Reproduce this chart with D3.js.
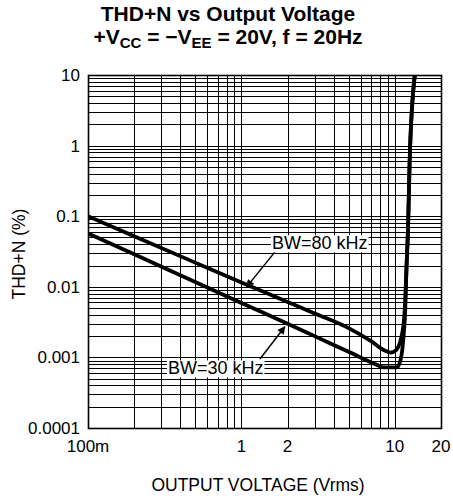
<!DOCTYPE html>
<html>
<head>
<meta charset="utf-8">
<title>THD+N vs Output Voltage</title>
<script src="https://d3js.org/d3.v7.min.js"></script>
<style>
  body { margin: 0; background: #fff; }
  svg text { font-family: "Liberation Sans", Arial, sans-serif; fill: #000; }
  .title { font-size: 21px; font-weight: bold; text-anchor: middle; }
  .tick-label { font-size: 17px; }
  .axis-title { font-size: 17.5px; text-anchor: middle; }
  .grid line { stroke: #000; stroke-width: 1; shape-rendering: crispEdges; }
  .curve { fill: none; stroke: #000; stroke-width: 3.8; stroke-linejoin: round; }
  .note { font-size: 18px; }
</style>
</head>
<body>
<div id="chart"></div>
<script>
// tick labels
const xTickVals = [0.1, 1, 2, 10, 20];
const xTickText = ["100m", "1", "2", "10", "20"];
const yTickVals = [0.0001, 0.001, 0.01, 0.1, 1, 10];
const yTickText = ["0.0001", "0.001", "0.01", "0.1", "1", "10"];

// BW = 80 kHz (upper curve)
const bw80V   = [0.1, 0.2, 0.5, 1, 2, 3, 5, 7, 8.6, 9.4, 10.2, 11.27, 11.69, 11.9, 12.2, 12.5, 13.5];
const bw80Thd = [0.1, 0.052, 0.022, 0.0115, 0.0061, 0.0042, 0.0026, 0.0017, 0.00125, 0.00117, 0.00127, 0.00244, 0.0065, 0.0173, 0.071, 0.625, 10];

// BW = 30 kHz (lower curve)
const bw30V   = [0.1, 0.2, 0.5, 1, 2, 3, 5, 7.6, 8.5, 10.3, 10.9, 11.35, 11.69, 11.9, 12.2, 12.5, 13.5];
const bw30Thd = [0.057, 0.029, 0.0117, 0.0059, 0.003, 0.002, 0.0012, 0.00079, 0.00072, 0.00072, 0.00092, 0.00177, 0.0047, 0.0173, 0.071, 0.625, 10];

// labels with arrows: text centre, arrow tail, arrow tip (data units)
const noteText = ["BW=80 kHz", "BW=30 kHz"];
const noteAt   = [[3.24, 0.042], [0.68, 0.00071]];
const noteTail = [[1.65, 0.031], [1.32, 0.00095]];
const noteTip  = [[1.08, 0.0099], [1.92, 0.00272]];

const W = 453, H = 503;
const margin = { top: 75, right: 12, bottom: 75, left: 88 };
const width = W - margin.left - margin.right;
const height = H - margin.top - margin.bottom;

const svg = d3.select("#chart").append("svg")
  .attr("width", W).attr("height", H);

// title
svg.append("text").attr("class", "title").attr("x", 228).attr("y", 21)
  .text("THD+N vs Output Voltage");
const t2 = svg.append("text").attr("class", "title").attr("x", 228).attr("y", 44);
t2.append("tspan").text("+V");
t2.append("tspan").attr("font-size", "15px").attr("dy", 4).text("CC");
t2.append("tspan").attr("dy", -4).text(" = \u2212V");
t2.append("tspan").attr("font-size", "15px").attr("dy", 4).text("EE");
t2.append("tspan").attr("dy", -4).text(" = 20V, f = 20Hz");

const g = svg.append("g").attr("transform", `translate(${margin.left},${margin.top})`);

const x = d3.scaleLog().domain([0.1, 20]).range([0, width]);
const y = d3.scaleLog().domain([0.0001, 10]).range([height, 0]);

// grid
const grid = g.append("g").attr("class", "grid");
grid.selectAll(".vx").data(x.ticks()).enter().append("line")
  .attr("x1", d => Math.round(x(d)) + 0.5).attr("x2", d => Math.round(x(d)) + 0.5)
  .attr("y1", 0).attr("y2", height);
grid.selectAll(".hy").data(y.ticks()).enter().append("line")
  .attr("y1", d => Math.round(y(d)) + 0.5).attr("y2", d => Math.round(y(d)) + 0.5)
  .attr("x1", 0).attr("x2", width);

// frame
g.append("rect").attr("x", 0.5).attr("y", 0.5).attr("width", width).attr("height", height)
  .attr("fill", "none").attr("stroke", "#000").attr("stroke-width", 1.6);

// tick labels
g.selectAll(".xt").data(xTickVals).enter().append("text")
  .attr("class", "tick-label")
  .attr("x", d => x(d)).attr("y", height + 24)
  .attr("text-anchor", "middle")
  .text((d, i) => xTickText[i]);
g.selectAll(".yt").data(yTickVals).enter().append("text")
  .attr("class", "tick-label")
  .attr("x", -8).attr("y", d => y(d) + 6)
  .attr("text-anchor", "end")
  .text((d, i) => yTickText[i]);

// axis titles
svg.append("text").attr("class", "axis-title")
  .attr("x", 258).attr("y", 491).text("OUTPUT VOLTAGE (Vrms)");
svg.append("text").attr("class", "axis-title")
  .attr("transform", "translate(25,254) rotate(-90)").text("THD+N (%)");

// curves
g.append("clipPath").attr("id", "clip").append("rect")
  .attr("width", width).attr("height", height);
const line = d3.line().x(d => x(d[0])).y(d => y(d[1])).curve(d3.curveMonotoneX);
const curves = g.append("g").attr("clip-path", "url(#clip)");
curves.append("path").attr("class", "curve").attr("d", line(d3.zip(bw80V, bw80Thd)));
curves.append("path").attr("class", "curve").attr("d", line(d3.zip(bw30V, bw30Thd)));

// annotations
svg.append("defs").append("marker")
  .attr("id", "arrow").attr("viewBox", "0 0 10 10").attr("refX", 9).attr("refY", 5)
  .attr("markerWidth", 11).attr("markerHeight", 8).attr("markerUnits", "userSpaceOnUse")
  .attr("orient", "auto")
  .append("path").attr("d", "M0,0 L10,5 L0,10 z").attr("fill", "#000");

noteText.forEach((txt, i) => {
  g.append("line")
    .attr("x1", x(noteTail[i][0])).attr("y1", y(noteTail[i][1]))
    .attr("x2", x(noteTip[i][0])).attr("y2", y(noteTip[i][1]))
    .attr("stroke", "#000").attr("stroke-width", 1.5)
    .attr("marker-end", "url(#arrow)");
  const bg = g.append("rect").attr("fill", "#fff");
  const t = g.append("text").attr("class", "note")
    .attr("x", x(noteAt[i][0])).attr("y", y(noteAt[i][1]) + 6.5)
    .attr("text-anchor", "middle").text(txt);
  const b = t.node().getBBox();
  bg.attr("x", b.x - 1).attr("y", b.y + 2).attr("width", b.width + 2).attr("height", b.height - 3);
});
</script>
</body>
</html>
